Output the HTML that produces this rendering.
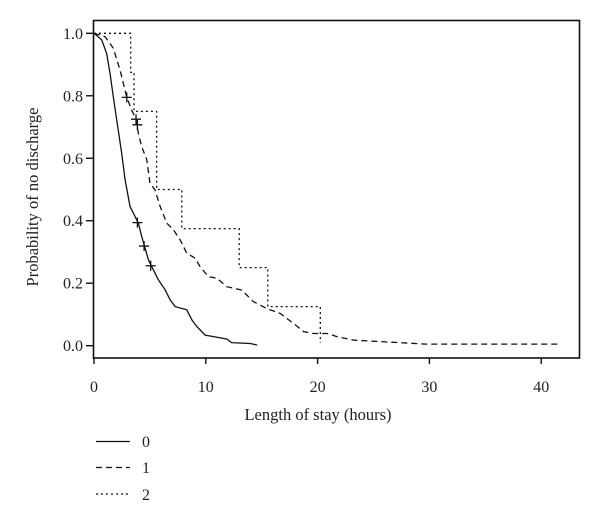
<!DOCTYPE html>
<html><head><meta charset="utf-8"><style>
html,body{margin:0;padding:0;background:#fff}
svg text{font-family:"Liberation Serif",serif;fill:#222}
</style></head><body>
<svg id="chart" width="600" height="526" viewBox="0 0 600 526" xmlns="http://www.w3.org/2000/svg">
<rect x="93.5" y="20.5" width="486" height="337.5" fill="none" stroke="#111" stroke-width="1.6"/>
<g id="axes"></g>
<g id="series"></g>
<text x="318" y="420" font-size="16.5" text-anchor="middle">Length of stay (hours)</text>
<text transform="translate(38,197) rotate(-90)" font-size="16.5" text-anchor="middle">Probability of no discharge</text>
<g>
<line x1="96" x2="130" y1="441.5" y2="441.5" stroke="#111" stroke-width="1.3"/>
<text x="142" y="447" font-size="16">0</text>
<line x1="96" x2="130" y1="467.5" y2="467.5" stroke="#111" stroke-width="1.3" stroke-dasharray="6,4"/>
<text x="142" y="473" font-size="16">1</text>
<line x1="96" x2="130" y1="494" y2="494" stroke="#111" stroke-width="1.3" stroke-dasharray="2,3"/>
<text x="142" y="500" font-size="16">2</text>
</g>
</svg>
<script>
const xTicks = [0, 10, 20, 30, 40];
const yTicks = [0.0, 0.2, 0.4, 0.6, 0.8, 1.0];
const g0x = [0,0.69,1.13,1.43,1.73,2.03,2.48,2.78,3.22,3.97,4.27,4.87,5.46,5.76,6.36,6.81,7.25,8.3,8.75,9.2,9.94,10.7,11.9,12.3,13.97,14.6];
const g0y = [1,0.979,0.936,0.872,0.797,0.723,0.616,0.531,0.446,0.392,0.350,0.275,0.232,0.211,0.179,0.147,0.125,0.115,0.083,0.061,0.034,0.029,0.021,0.010,0.007,0.002];
const g1x = [0,0.99,1.73,2.33,2.93,3.37,3.76,3.97,4.27,4.72,5.01,5.46,5.91,6.51,7.1,7.7,8.3,9.04,9.49,10.24,10.99,11.88,12.48,13.22,14.27,15.46,16.66,17.85,18.75,19.64,20.84,21.73,23.2,29.7,41.7];
const g1y = [1,0.989,0.952,0.883,0.795,0.754,0.725,0.680,0.637,0.595,0.520,0.499,0.446,0.392,0.371,0.339,0.296,0.280,0.253,0.221,0.216,0.189,0.184,0.178,0.141,0.119,0.103,0.071,0.045,0.039,0.039,0.029,0.018,0.005,0.005];
const g2x = [0,3.28,3.58,5.6,7.85,12.99,15.55,20.24];
const g2y = [1,0.875,0.75,0.5,0.375,0.25,0.125,0.01];
const cens0x = [3.88,4.48,5.07];
const cens0y = [0.394,0.319,0.256];
const cens1x = [2.93,3.76,3.88];
const cens1y = [0.795,0.725,0.707];

const NS='http://www.w3.org/2000/svg';
const X = v => 94 + v*11.18;
const Y = v => 345.7 - v*312.4;
const axes=document.getElementById('axes'), ser=document.getElementById('series');
function mk(tag, attrs, parent){const e=document.createElementNS(NS,tag);for(const k in attrs)e.setAttribute(k,attrs[k]);parent.appendChild(e);return e;}
xTicks.forEach(t=>{
  const l=mk('line',{x1:X(t),x2:X(t),y1:358,y2:364,stroke:'#111','stroke-width':1.4},axes);
  
  
  const tx=mk('text',{x:X(t),y:392,'font-size':16,'text-anchor':'middle'},axes);
  
  
  tx.textContent=t;
});
yTicks.forEach(t=>{
  const l=mk('line',{x1:86,x2:93,y1:Y(t),y2:Y(t),stroke:'#111','stroke-width':1.4},axes);
  
  
  const tx=mk('text',{x:83,y:Y(t)+5.5,'font-size':16,'text-anchor':'end'},axes);
  
  
  tx.textContent=t.toFixed(1);
});
function linePts(xs,ys){return xs.map((x,i)=>X(x).toFixed(1)+','+Y(ys[i]).toFixed(1)).join(' ');}
function stepPts(xs,ys){let p=[];xs.forEach((x,i)=>{if(i>0)p.push(X(x).toFixed(1)+','+Y(ys[i-1]).toFixed(1));p.push(X(x).toFixed(1)+','+Y(ys[i]).toFixed(1));});return p.join(' ');}
const s0=mk('polyline',{points:linePts(g0x,g0y),fill:'none',stroke:'#111','stroke-width':1.3},ser);


const s1=mk('polyline',{points:linePts(g1x,g1y),fill:'none',stroke:'#111','stroke-width':1.3,'stroke-dasharray':'6,4'},ser);


const s2=mk('polyline',{points:stepPts(g2x,g2y),fill:'none',stroke:'#111','stroke-width':1.3,'stroke-dasharray':'2,3'},ser);


function cens(xs,ys,name){xs.forEach((x,i)=>{
  const p=mk('path',{d:`M${X(x)-5},${Y(ys[i])}h10M${X(x)},${Y(ys[i])-5}v10`,stroke:'#111','stroke-width':1.3},ser);
  
  
});}
cens(cens0x,cens0y,'censor-mark-0');
cens(cens1x,cens1y,'censor-mark-1');
</script>
</body></html>
